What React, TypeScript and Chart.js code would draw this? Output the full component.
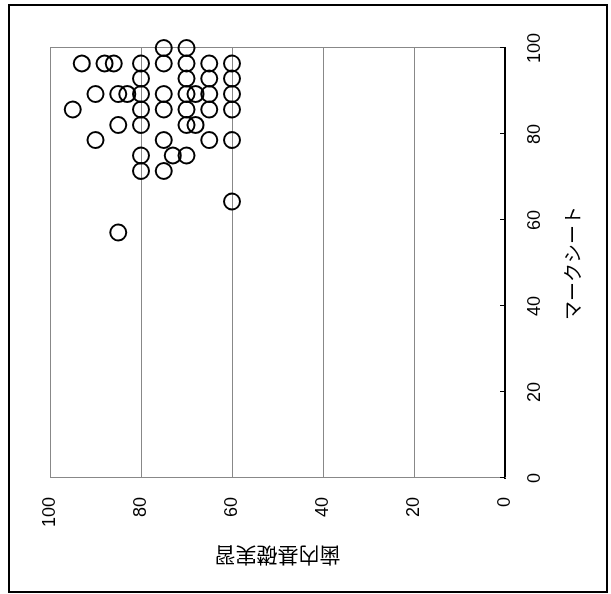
import React, { useEffect, useRef } from "react";
import { Chart, registerables } from "chart.js";

Chart.register(...registerables);

// マークシート (x) and 歯内基礎実習 (y) scores, one entry per student
const markSheetScores = [
  100, 100,
  96.4, 96.4, 96.4, 96.4, 96.4, 96.4, 96.4, 96.4,
  92.9, 92.9, 92.9, 92.9,
  89.3, 89.3, 89.3, 89.3, 89.3, 89.3, 89.3, 89.3, 89.3,
  85.7, 85.7, 85.7, 85.7, 85.7, 85.7,
  82.1, 82.1, 82.1, 82.1,
  78.6, 78.6, 78.6, 78.6,
  75, 75, 75,
  71.4, 71.4,
  64.3,
  57.1,
];
const practiceScores = [
  75, 70,
  93, 88, 86, 80, 75, 70, 65, 60,
  80, 70, 65, 60,
  90, 85, 83, 80, 75, 70, 68, 65, 60,
  95, 80, 75, 70, 65, 60,
  85, 80, 70, 68,
  90, 75, 65, 60,
  80, 73, 70,
  80, 75,
  60,
  85,
];
const axisTicks = [0, 20, 40, 60, 80, 100];
const xTitle = "マークシート";
const yTitle = "歯内基礎実習";

const W = 585;
const H = 596;

const tickMarks = {
  id: "tickMarks",
  afterDraw(chart: any) {
    const { ctx, chartArea } = chart;
    const xs = chart.scales.x;
    ctx.save();
    ctx.strokeStyle = "#000";
    ctx.lineWidth = 1;
    for (const v of axisTicks) {
      const px = Math.round(xs.getPixelForValue(v)) + 0.5;
      ctx.beginPath();
      ctx.moveTo(px, chartArea.bottom);
      ctx.lineTo(px, chartArea.bottom - 5);
      ctx.stroke();
    }
    ctx.restore();
  },
};

export default function App() {
  const ref = useRef<HTMLCanvasElement | null>(null);

  useEffect(() => {
    if (!ref.current) return;
    const points = markSheetScores.map((x, i) => ({ x, y: practiceScores[i] }));
    const tickFont = { family: '"Liberation Sans", Arial, sans-serif', size: 18 };
    const chart = new Chart(ref.current, {
      type: "scatter",
      data: {
        datasets: [
          {
            data: points,
            pointRadius: 8,
            pointHoverRadius: 8,
            borderWidth: 2,
            pointBorderWidth: 2,
            borderColor: "#000",
            pointBorderColor: "#000",
            backgroundColor: "rgba(0,0,0,0)",
            pointBackgroundColor: "rgba(0,0,0,0)",
            clip: false,
          } as any,
        ],
      },
      options: {
        animation: false,
        responsive: false,
        maintainAspectRatio: false,
        events: [],
        layout: { padding: { top: 40, right: 42, bottom: 0, left: 0 } },
        plugins: { legend: { display: false }, tooltip: { enabled: false } },
        scales: {
          x: {
            type: "linear",
            position: "bottom",
            min: 0,
            max: 100,
            afterBuildTicks: (s: any) => {
              s.ticks = axisTicks.map((v) => ({ value: v }));
            },
            afterFit: (s: any) => {
              s.height = 101;
            },
            ticks: {
              font: tickFont,
              color: "#000",
              padding: 19,
              maxRotation: 0,
              minRotation: 0,
            },
            grid: {
              drawTicks: false,
              color: (c: any) => (c.tick && c.tick.value === 100 ? "#888" : "rgba(0,0,0,0)"),
              lineWidth: 1,
            },
            border: { color: "#000", width: 2 },
            title: {
              display: true,
              text: xTitle,
              color: "#000",
              font: { family: '"Noto Sans CJK JP", sans-serif', size: 19 },
              padding: { top: 0, bottom: 22 },
            },
          },
          y: {
            type: "linear",
            position: "left",
            min: 0,
            max: 100,
            afterBuildTicks: (s: any) => {
              s.ticks = axisTicks.map((v) => ({ value: v }));
            },
            afterFit: (s: any) => {
              s.width = 113;
            },
            ticks: {
              font: tickFont,
              color: "#000",
              padding: 19,
            },
            grid: {
              drawTicks: false,
              color: "#888",
              lineWidth: 1,
            },
            border: { color: "#888", width: 1 },
            title: {
              display: true,
              text: yTitle,
              color: "#000",
              font: { family: '"Noto Sans CJK JP", sans-serif', size: 21 },
              padding: { top: 22, bottom: 0 },
            },
          },
        },
      },
      plugins: [tickMarks],
    });
    return () => chart.destroy();
  }, []);

  return (
    <div
      style={{
        position: "absolute",
        left: 8,
        top: 4,
        width: 600,
        height: 589,
        border: "2px solid #000",
        boxSizing: "border-box",
        background: "#fff",
        overflow: "hidden",
      }}
    >
      <div
        style={{
          position: "absolute",
          left: 0,
          top: 0,
          width: W,
          height: H,
          transformOrigin: "0 0",
          transform: `translate(0px, ${W}px) rotate(-90deg)`,
        }}
      >
        <canvas ref={ref} width={W} height={H} style={{ display: "block", width: W, height: H }} />
      </div>
    </div>
  );
}
